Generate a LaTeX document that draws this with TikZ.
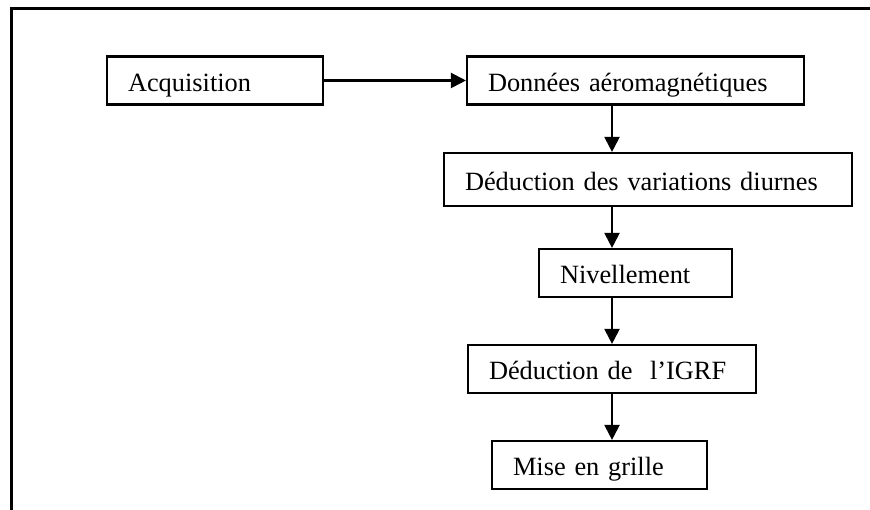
\documentclass[tikz,border=0pt]{standalone}
\usepackage{fontspec}
\setmainfont{Liberation Serif}
\usepackage{tikz}
\usetikzlibrary{arrows.meta,positioning}
\tikzstyle{etape} = [rectangle, draw, line width=1.2pt, align=left, inner xsep=0.42cm, inner ysep=0pt, minimum height=0.96cm, text height=0.5cm, text depth=0.06cm, font=\fontsize{15}{18}\selectfont]
\tikzstyle{fleche} = [line width=1.2pt, -{Triangle[length=0.3cm,width=0.3cm]}]

\begin{document}
\begin{tikzpicture}
\useasboundingbox (0,0) rectangle (17.4,10.2);
% Cadre
\draw[line width=1.2pt] (0.23,0) |- (17.4,10.03);

% Etapes
\node[etape, text width=3.48cm] (acq) at (4.30,8.59) {Acquisition};
\node[etape, text width=5.90cm] (don) at (12.71,8.59) {Données aéromagnétiques};
\node[etape, text width=7.32cm, minimum height=1.06cm] (diu) at (12.96,6.61) {Déduction des variations diurnes};
\node[etape, text width=3.02cm] (niv) at (12.71,4.74) {Nivellement};
\node[etape, text width=4.92cm] (igrf) at (12.24,2.82) {Déduction de~ l’IGRF};
\node[etape, text width=3.46cm] (mise) at (11.99,0.90) {Mise en grille};

% Fleches
\coordinate (col) at (12.24,0);
\draw[fleche] (acq.east) -- (don.west);
\draw[fleche] (don.south -| col) -- (diu.north -| col);
\draw[fleche] (diu.south -| col) -- (niv.north -| col);
\draw[fleche] (niv.south -| col) -- (igrf.north -| col);
\draw[fleche] (igrf.south -| col) -- (mise.north -| col);
\end{tikzpicture}
\end{document}
